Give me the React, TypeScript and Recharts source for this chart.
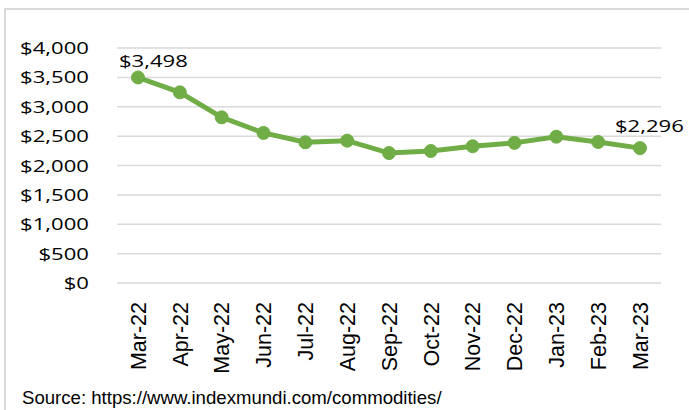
import { CartesianGrid, LabelList, Line, LineChart, XAxis, YAxis } from "recharts";

const months = [
  "Mar-22", "Apr-22", "May-22", "Jun-22", "Jul-22", "Aug-22", "Sep-22",
  "Oct-22", "Nov-22", "Dec-22", "Jan-23", "Feb-23", "Mar-23",
];
const prices = [3498, 3245, 2820, 2554, 2395, 2423, 2212, 2247, 2328, 2385, 2490, 2400, 2296];
const yTicks = [0, 500, 1000, 1500, 2000, 2500, 3000, 3500, 4000];
const sourceNote = "Source: https://www.indexmundi.com/commodities/";

const data = months.map((month, i) => ({ month, price: prices[i] }));

const GREEN = "#70ad47";
const labelFont = "'Open Sans', Lato, sans-serif";
const axisFont = "'Liberation Sans', Arial, sans-serif";
// the reference's calibri-ish numbers are drawn wide, so stretch them a bit
const STRETCH = 1.3;

function fmtDollar(v: number) {
  return "$" + v.toLocaleString("en-US");
}

function wide(x: number, y: number) {
  return `translate(${x},${y}) scale(${STRETCH},1) translate(${-x},${-y})`;
}

function MonthTick(props: any) {
  const { x, payload } = props;
  return (
    <text
      x={x}
      y={302}
      transform={`rotate(-90, ${x}, 302)`}
      textAnchor="end"
      dy="0.36em"
      fontSize={21.5}
      fontFamily={axisFont}
      fill="#000"
    >
      {payload.value}
    </text>
  );
}

function DollarTick(props: any) {
  const { x, y, payload } = props;
  return (
    <text
      x={x}
      y={y}
      dy="0.357em"
      textAnchor="end"
      transform={wide(x, y)}
      fontSize={17}
      fontFamily={labelFont}
      fill="#000"
    >
      {fmtDollar(payload.value)}
    </text>
  );
}

// only first and last points carry a label
function EndLabel(props: any) {
  const { x, y, value, index } = props;
  if (index !== 0 && index !== prices.length - 1) return null;
  const lx = x + (index === 0 ? -19 : -25);
  const ly = y + (index === 0 ? -10 : -16);
  return (
    <text
      x={lx}
      y={ly}
      textAnchor="start"
      transform={wide(lx, ly)}
      fontSize={17}
      fontFamily={labelFont}
      fill="#000"
    >
      {fmtDollar(value)}
    </text>
  );
}

export default function App() {
  return (
    <div
      style={{
        position: "absolute",
        left: 0,
        top: 0,
        width: 689,
        height: 410,
        overflow: "hidden",
        background: "#fff",
      }}
    >
      <div
        style={{
          position: "absolute",
          left: 4,
          top: 8,
          width: 720,
          height: 440,
          border: "2px solid #d9d9d9",
        }}
      />
      <div style={{ position: "absolute", left: 0, top: 0 }}>
        <LineChart
          width={689}
          height={410}
          data={data}
          margin={{ top: 48, right: 28, bottom: 126, left: 37 }}
        >
          <CartesianGrid vertical={false} stroke="#d9d9d9" strokeWidth={1.5} />
          <XAxis
            dataKey="month"
            axisLine={false}
            tickLine={false}
            interval={0}
            padding={{ left: 21, right: 21 }}
            tick={<MonthTick />}
            height={1}
          />
          <YAxis
            width={80}
            domain={[0, 4000]}
            ticks={yTicks}
            axisLine={false}
            tickLine={false}
            tickSize={0}
            tickMargin={28}
            tick={<DollarTick />}
          />
          <Line
            dataKey="price"
            stroke={GREEN}
            strokeWidth={5}
            dot={{ r: 6.5, fill: GREEN, stroke: GREEN, strokeWidth: 1 }}
            isAnimationActive={false}
          >
            <LabelList dataKey="price" content={<EndLabel />} />
          </Line>
        </LineChart>
      </div>
      <div
        style={{
          position: "absolute",
          left: 22,
          top: 389,
          fontSize: 18.6,
          lineHeight: "18.6px",
          fontFamily: axisFont,
          color: "#000",
          whiteSpace: "nowrap",
        }}
      >
        {sourceNote}
      </div>
    </div>
  );
}
